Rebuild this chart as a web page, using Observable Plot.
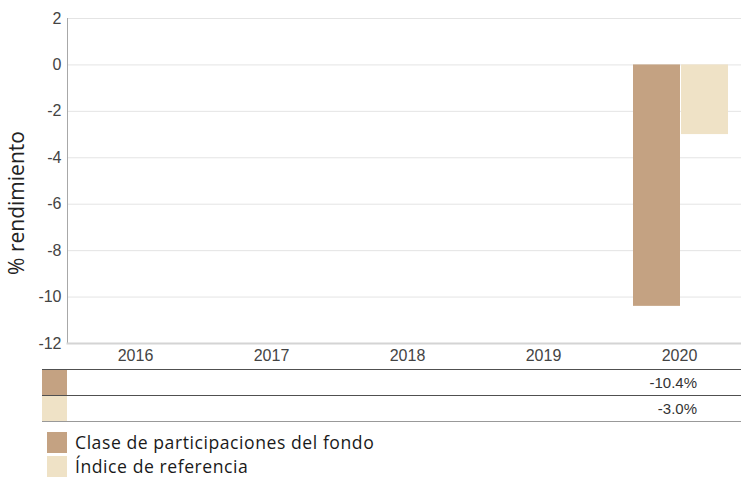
<!DOCTYPE html>
<html><head><meta charset="utf-8">
<script src="https://cdn.jsdelivr.net/npm/d3@7"></script>
<script src="https://cdn.jsdelivr.net/npm/@observablehq/plot@0.6"></script>
<style>
html,body{margin:0;padding:0;background:#fff}
body{width:741px;height:480px;position:relative;overflow:hidden;font-family:"Liberation Sans",Arial,sans-serif}
#chart{position:absolute;left:0;top:0}
#ylabel{position:absolute;left:16px;top:203px;transform:translate(-50%,-50%) rotate(-90deg);white-space:nowrap;font-family:"Open Sans",sans-serif;font-size:21px;color:#222}
#table{position:absolute;left:42px;top:369px;width:699px}
.row{position:relative;height:25px;border-top:1.5px solid #505050}
.row:last-child{border-bottom:1.5px solid #999}
.sw{position:absolute;left:0;top:0;width:25px;height:25px}
.val{position:absolute;top:0;line-height:26px;font-size:15px;color:#333;text-align:right}
#legend{position:absolute;left:47px;top:430px;font-family:"Open Sans",sans-serif;font-size:17.6px;letter-spacing:0.55px;color:#1a1a1a}
.li{display:flex;align-items:center;height:24px;line-height:24px}
.li span.box{display:inline-block;width:20px;height:21px;margin-right:8px;flex:none}
.li span.t{display:inline-block;line-height:24px;height:24px}
</style></head><body>
<div id="chart"></div>
<div id="ylabel"></div>
<div id="table"></div>
<div id="legend"></div>
<script>
const years = ["2016","2017","2018","2019","2020"];
const seriesNames = ["Clase de participaciones del fondo","Índice de referencia"];
const fundValues = [null,null,null,null,-10.4];
const indexValues = [null,null,null,null,-3.0];
const yTicks = [2,0,-2,-4,-6,-8,-10,-12];
const yLabel = "% rendimiento";
const colors = ["#c4a282","#efe2c6"];

const fundRows = years.map((y,i)=>({year:y, value:fundValues[i]})).filter(d=>d.value!=null);
const indexRows = years.map((y,i)=>({year:y, value:indexValues[i]})).filter(d=>d.value!=null);

const plot = Plot.plot({
  width: 741, height: 365,
  marginTop: 18, marginBottom: 22, marginLeft: 67, marginRight: 0,
  style: {fontFamily: "'Liberation Sans', Arial, sans-serif", fontSize: "16px", color: "#444", background: "transparent", overflow: "visible"},
  x: {domain: years, range: [67, 747], padding: 0, label: null},
  y: {domain: [-12, 2], ticks: yTicks, label: null},
  marks: [
    Plot.gridY(yTicks, {stroke: "#e4e4e4", strokeOpacity: 1}),
    Plot.barY(fundRows, {x: "year", y: "value", fill: colors[0], insetLeft: 22, insetRight: 67}),
    Plot.barY(indexRows, {x: "year", y: "value", fill: colors[1], insetLeft: 70, insetRight: 19}),
    Plot.frame({anchor: "left", stroke: "#a8a8a8"}),
    Plot.frame({anchor: "bottom", stroke: "#d4d4d4", strokeWidth: 2}),
    Plot.axisY(yTicks, {tickSize: 0, tickPadding: 6, label: null, fill: "#444", tickFormat: d => String(d)}),
    Plot.axisX({tickSize: 0, tickPadding: 6, label: null, fill: "#444"})
  ]
});
document.getElementById("chart").appendChild(plot);
document.getElementById("ylabel").textContent = yLabel;

const xs = plot.scale("x");
const tbl = document.getElementById("table");
[fundValues, indexValues].forEach((vals, s) => {
  const row = document.createElement("div");
  row.className = "row";
  const sw = document.createElement("div");
  sw.className = "sw"; sw.style.background = colors[s];
  row.appendChild(sw);
  vals.forEach((v, i) => {
    if (v == null) return;
    const c = document.createElement("div");
    c.className = "val";
    const center = xs.apply(years[i]) + xs.bandwidth / 2;
    c.style.right = (699 + 42 - (center + 18)) + "px";
    c.textContent = v.toFixed(1) + "%";
    row.appendChild(c);
  });
  tbl.appendChild(row);
});

const lg = document.getElementById("legend");
seriesNames.forEach((n, s) => {
  const li = document.createElement("div");
  li.className = "li";
  const b = document.createElement("span");
  b.className = "box"; b.style.background = colors[s];
  li.appendChild(b);
  const t = document.createElement("span");
  t.className = "t"; t.textContent = n;
  li.appendChild(t);
  lg.appendChild(li);
});
</script>
</body></html>
